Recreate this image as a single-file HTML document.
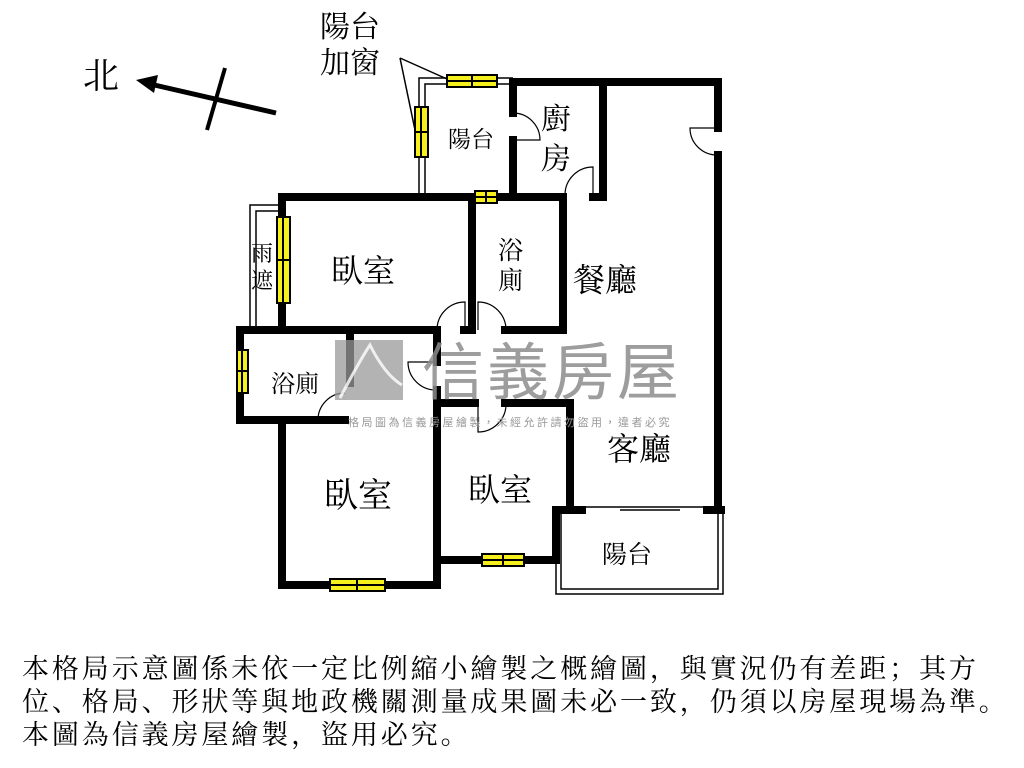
<!DOCTYPE html>
<html><head><meta charset="utf-8"><style>
body{margin:0;background:#fff;width:1024px;height:768px;overflow:hidden;position:relative;font-family:"Liberation Serif","Noto Serif CJK SC","Noto Sans CJK TC",serif;}
.t{position:absolute;color:#000;white-space:nowrap;}
.note{position:absolute;left:22px;font-size:27px;letter-spacing:2.9px;line-height:33px;top:650px;color:#000;font-family:"Noto Serif CJK SC","Noto Sans CJK TC",serif;white-space:nowrap;}
</style></head><body>
<svg width="1024" height="640" style="position:absolute;left:0;top:0">
<g stroke="#000" fill="none">
<line x1="276" y1="113" x2="150" y2="84" stroke-width="5"/>
<polygon points="136,80 158,75 154,93" fill="#000" stroke="none"/>
<line x1="225" y1="68" x2="207" y2="130" stroke-width="4"/>
<line x1="400" y1="58" x2="447" y2="79" stroke-width="1.5"/>
<line x1="400" y1="58" x2="415" y2="130" stroke-width="1.5"/>
<path d="M419 197 V78 H513 M425 197 V84 H513" stroke-width="1.5"/>
<path d="M250 330 V205 H282 M256 330 V211 H282" stroke-width="1.5"/>
<path d="M556 512 V594 H723 V510 M561 512 V589 H718 V512" stroke-width="1.5"/>
<line x1="585" y1="507" x2="707" y2="507" stroke-width="1.5"/>
<line x1="620" y1="510" x2="680" y2="510" stroke-width="1.5"/>
</g>
<g stroke="#000" stroke-width="8" fill="none" stroke-linecap="square">
<path d="M513 82 H718 V128"/>
<path d="M718 155 V507"/>
<path d="M513 82 V113 M513 140 V197"/>
<path d="M603 82 V197 H593"/>
<path d="M282 197 H563 V330 H505"/>
<path d="M282 197 V330"/>
<path d="M472 197 V330 M464 330 H470"/>
<path d="M240 330 H437 V362"/>
<path d="M240 330 V420 H345"/>
<path d="M350 334 V383"/>
<path d="M437 390 V585 H282 V420"/>
<path d="M437 403 H475 M505 403 H570 V507"/>
<path d="M437 560 H556 V510 H582"/>
<path d="M707 510 H721"/>
</g>
<g stroke="#000" stroke-width="1.2" fill="none">
<path d="M513 113 A27 27 0 0 1 540 140 H513"/>
<path d="M593 197 V167 A28 28 0 0 0 565 195"/>
<path d="M718 128 H690 A27 27 0 0 0 718 155"/>
<path d="M465 330 V302 A28 28 0 0 0 437 330"/>
<path d="M478 330 V302 A28 28 0 0 1 506 330"/>
<path d="M437 362 H408 A28 28 0 0 0 437 390"/>
<path d="M345 420 H318 A27 27 0 0 1 345 393"/>
<path d="M478 403 V432 A28 28 0 0 0 506 403"/>
</g>
<g fill="#f5ef1e" stroke="#000" stroke-width="2">
<rect x="447" y="75" width="50" height="12"/><line x1="472" y1="75" x2="472" y2="87"/><line x1="447" y1="81" x2="497" y2="81"/>
<rect x="415" y="107" width="13" height="50"/><line x1="415" y1="132" x2="428" y2="132"/><line x1="421" y1="107" x2="421" y2="157"/>
<rect x="475" y="191" width="22" height="12"/><line x1="486" y1="191" x2="486" y2="203"/><line x1="475" y1="197" x2="497" y2="197"/>
<rect x="277" y="217" width="13" height="86"/><line x1="277" y1="260" x2="290" y2="260"/><line x1="283" y1="217" x2="283" y2="303"/>
<rect x="237" y="350" width="11" height="43"/><line x1="237" y1="371" x2="248" y2="371"/><line x1="242" y1="350" x2="242" y2="393"/>
<rect x="330" y="579" width="55" height="12"/><line x1="357" y1="579" x2="357" y2="591"/><line x1="330" y1="585" x2="385" y2="585"/>
<rect x="482" y="554" width="42" height="12"/><line x1="503" y1="554" x2="503" y2="566"/><line x1="482" y1="560" x2="524" y2="560"/>
</g>
<rect x="335" y="340" width="68" height="60" fill="#999" opacity="0.75"/>
<path d="M340 398 Q360 360 370 345 Q385 375 402 385" stroke="#fff" stroke-width="3" fill="none" opacity="0.8"/>
<text x="422" y="394" font-size="62" fill="#8c8c8c" opacity="0.85" font-family="Noto Sans CJK TC,sans-serif" letter-spacing="3">信義房屋</text>
<text x="348" y="426" font-size="11" fill="#999" font-family="Noto Sans CJK TC,sans-serif" letter-spacing="2.5">格局圖為信義房屋繪製，未經允許請勿盜用，違者必究</text>
</svg>
<div class="t" style="left:83px;top:48px;font-size:36px">北</div>
<div class="t" style="left:320px;top:10px;font-size:30px;line-height:36px">陽台<br>加窗</div>
<div class="t" style="left:448px;top:121px;font-size:23px">陽台</div>
<div class="t" style="left:541px;top:100px;font-size:30px;line-height:40px">廚<br>房</div>
<div class="t" style="left:251px;top:240px;font-size:22px;line-height:27px">雨<br>遮</div>
<div class="t" style="left:331px;top:246px;font-size:32px">臥室</div>
<div class="t" style="left:498px;top:237px;font-size:25px;line-height:30px">浴<br>廁</div>
<div class="t" style="left:573px;top:255px;font-size:32px">餐廳</div>
<div class="t" style="left:271px;top:364px;font-size:24px">浴廁</div>
<div class="t" style="left:607px;top:424px;font-size:32px">客廳</div>
<div class="t" style="left:324px;top:468px;font-size:34px">臥室</div>
<div class="t" style="left:468px;top:465px;font-size:32px">臥室</div>
<div class="t" style="left:602px;top:535px;font-size:25px">陽台</div>
<div class="note">本格局示意圖係未依一定比例縮小繪製之概繪圖，與實況仍有差距；其方<br>位、格局、形狀等與地政機關測量成果圖未必一致，仍須以房屋現場為準。<br>本圖為信義房屋繪製，盜用必究。</div>
</body></html>
